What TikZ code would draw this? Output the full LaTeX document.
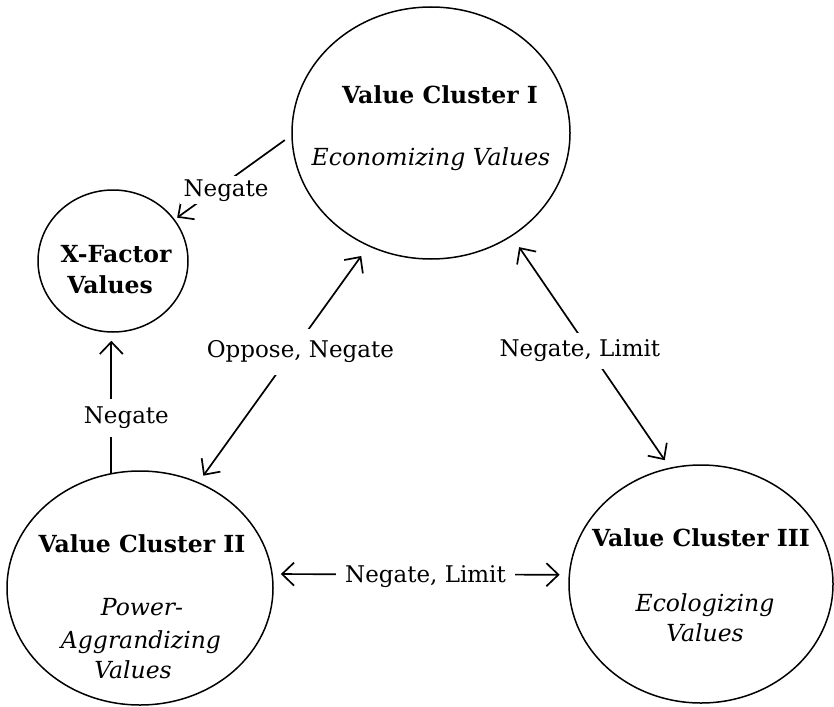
\documentclass[tikz,border=0pt]{standalone}
\usepackage{fontspec}
\setmainfont{DejaVu Serif}
\usetikzlibrary{shapes.geometric,arrows.meta}
\begin{document}
\begin{tikzpicture}[x=1pt,y=-1pt,
  ring/.style={draw, ellipse, line width=1.5pt, inner sep=0pt},
  title/.style={font=\fontsize{23.5}{28}\selectfont\bfseries, anchor=base, inner sep=0pt},
  sub/.style={font=\fontsize{23.5}{28}\selectfont\itshape, anchor=base, inner sep=0pt},
  lbl/.style={font=\fontsize{23}{28}\selectfont, fill=white, inner xsep=4pt, inner ysep=6pt},
  link/.style={line width=1.7pt},
  tip/.tip={Straight Barb[length=12pt,width=23pt]}
]
\useasboundingbox (0,0) rectangle (834,706);

\node[ring, minimum width=278pt, minimum height=252pt] (I) at (431,133) {};
\node[ring, minimum width=150pt, minimum height=142pt] (X) at (113,261) {};
\node[ring, minimum width=266pt, minimum height=234pt] (II) at (140,588) {};
\node[ring, minimum width=264pt, minimum height=238pt] (III) at (701,584) {};

\node[title] (t1) at (440,103) {Value Cluster I};
\node[sub] (s1) at (431,165) {Economizing Values};
\node[title] (tx1) at (116,262) {X-Factor};
\node[title] (tx2) at (110,293) {Values};
\node[title] (t2) at (142,552) {Value Cluster II};
\node[sub] (s2a) at (142,615) {Power-};
\node[sub] (s2b) at (141,648) {Aggrandizing};
\node[sub] (s2c) at (133,678) {Values};
\node[title] (t3) at (701,546) {Value Cluster III};
\node[sub] (s3a) at (705,611) {Ecologizing};
\node[sub] (s3b) at (705,641) {Values};

\draw[link, -{tip}, shorten <=8pt, shorten >=3pt] (I.181) --
  node[lbl, pos=0.654, xshift=11pt, inner ysep=3pt] (n1) {Negate} (X.34);
\draw[link, -{tip}, shorten >=8pt] (II.104) --
  node[lbl, pos=0.394, xshift=15pt, inner ysep=8pt] (n2) {Negate} (II.104 |- X.south);
\draw[link, {tip}-{tip}, shorten <=8pt, shorten >=12pt] (II.61) --
  node[lbl, pos=0.553, xshift=8pt, inner ysep=12pt] (n3) {Oppose, Negate} (I.241);
\draw[link, {tip}-{tip}, shorten <=13pt, shorten >=9pt] (I.308) --
  node[lbl, pos=0.494, xshift=-10pt, inner ysep=7pt] (n4) {Negate, Limit} (III.105);
\draw[link, {tip}-{tip}, shorten <=8pt, shorten >=9pt] (II.6) --
  node[lbl, pos=0.516, yshift=-2pt, inner xsep=9.5pt] (n5) {Negate, Limit} (III.176);
\end{tikzpicture}
\end{document}
